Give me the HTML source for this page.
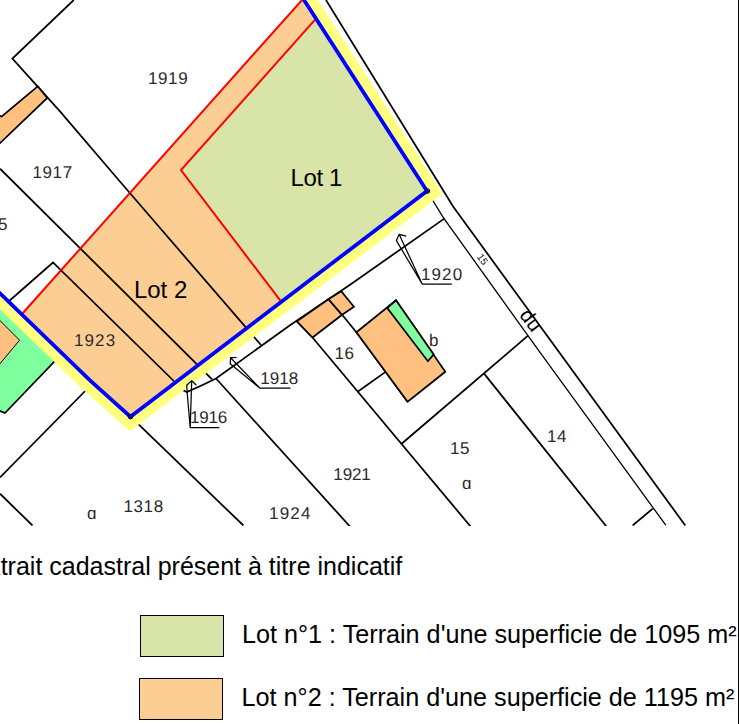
<!DOCTYPE html>
<html><head><meta charset="utf-8">
<style>
html,body{margin:0;padding:0;background:#fff;width:739px;height:724px;overflow:hidden}
svg{position:absolute;left:0;top:0}
text{font-family:"Liberation Sans",sans-serif;fill:#000}
.lbl{font-size:17px;letter-spacing:0.6px;fill:#2a2a2a;text-rendering:geometricPrecision}
</style></head><body>
<svg width="739" height="724" viewBox="0 0 739 724">
<defs>
<clipPath id="map"><rect x="0" y="0" width="739" height="526"/></clipPath>
<clipPath id="ycl"><polygon points="22,314.7 0,293.4 -50,245 -50,800 800,800 800,-50 302,-50 302,0"/></clipPath>
<clipPath id="lots"><polygon points="302,0 22,314.7 90,380.4 130.4,416.7 427,191 304,0"/></clipPath>
</defs>
<g clip-path="url(#map)">
  <!-- base black lines -->
  <g id="blines" fill="none" stroke="#000" stroke-width="1.75">
    <path d="M73.75,0 L12.4,58.5 L60,111.4 L119.5,181 L261,345"/>
    <path d="M0,168.7 L212.1,379.3"/>
    <path d="M8,302 L53,262.5 L184,391"/>
    <path d="M94,382 L0,477.5"/>
    <path d="M0,493.75 L32.5,525.5"/>
    <path d="M130.3,416.4 L243.4,525.5"/>
    <path d="M216,378.5 L350.4,527"/>
    <path d="M183,390 L186.7,392.1 Q201,386 216,378.5 L290,325.3 L349.7,285 L444.3,218.6"/>
    <path d="M528,335.7 L401.3,444"/>
    <path d="M296.9,321.3 L312.5,337.5 L471,527"/>
    <path d="M328.4,299.2 L342.1,314.8 L356.4,332.2 L407.6,401.7"/>
    <path d="M385.6,371.9 L357.6,391.7"/>
    <path d="M483.9,373.4 L606.8,527"/>
    <path d="M326,0 L453.1,206.5 L685.3,525.5"/>
    <path d="M632.6,525.5 L652.8,508.6"/>
  </g>
  <path d="M427,191 L443,217.2 L540,352.4 L665.8,525.2" fill="none" stroke="#000" stroke-width="1.3"/>
  <!-- strip at left -->
  <polygon points="37.7,86.3 1.45,116.7 -3,114 -3,146 47.3,97.9" fill="#FFC080" stroke="#000" stroke-width="1.75"/>
  <!-- green parcel left -->
  <polygon points="-5,288 63,352.6 5,413 -5,409" fill="#80FF9F" stroke="#000" stroke-width="1.75"/>
  <polygon points="-6,314.6 19.6,340.2 -6,370.9" fill="#FFC080" stroke="#000" stroke-width="1"/>
  <!-- buildings -->
  <g stroke="#000" stroke-width="1.75" stroke-linejoin="miter">
    <polygon points="296.9,321.3 328.4,299.2 342.1,314.8 312.5,337.5" fill="#FFC080"/>
    <polygon points="328.4,299.2 341.2,291.2 353.9,306.8 342.1,314.8" fill="#FFC080"/>
    <polygon points="356.4,332.2 396,300.3 445.3,371.8 407.6,401.7" fill="#FFC080"/>
    <polygon points="387.3,308 396,300.3 433.7,354.4 427.9,361.2" fill="#80FF9F"/>
  </g>
  <!-- yellow buffer -->
  <path clip-path="url(#ycl)" d="M284.7,-30 L427,191 L130.4,416.7 L90,380.4 L0,293.4 L-20,274.1" fill="none" stroke="#FFFF80" stroke-width="23" stroke-linejoin="miter"/>
  <!-- lot fills -->
  <polygon points="302,0 22,314.7 90,380.4 130.4,416.7 427,191 304,0" fill="#FCCE94"/>
  <polygon points="316,18.6 427,191 281.2,301.7 181,170" fill="#D8E4A8"/>
  <!-- red lines -->
  <g fill="none" stroke="#FF0000" stroke-width="2">
    <path d="M302,0 L22,314"/>
    <path d="M316,18.6 L181,170 L281.2,301.7"/>
  </g>
  <!-- black lines inside lots -->
  <g clip-path="url(#lots)" fill="none" stroke="#000" stroke-width="1.75">
    <path d="M73.75,0 L12.4,58.5 L60,111.4 L119.5,181 L261,345"/>
    <path d="M0,168.7 L212.1,379.3"/>
    <path d="M8,302 L53,262.5 L184,391"/>
  </g>
  <!-- blue line -->
  <path d="M284.7,-30 L427,191 L130.4,416.7 L90,380.4 L0,293.4 L-20,274.1" fill="none" stroke="#0000FF" stroke-width="3.8" stroke-linejoin="miter"/>
  <circle cx="427.5" cy="191" r="2.3" fill="none" stroke="#000" stroke-width="1"/>
  <circle cx="130.5" cy="416.6" r="2.3" fill="none" stroke="#000" stroke-width="1"/>
  <!-- arrows / leaders -->
  <g fill="none" stroke="#000" stroke-width="1.25" stroke-linejoin="round">
    <path d="M406.3,236.2 L399.1,234.3 L396.4,240.6 L422.3,284.2 L451.8,284.2 M399.1,234.3 L422.3,284.2"/>
    <path d="M236.7,357.5 L230.6,357.7 L230.2,363.8 L259.7,388 L290.5,388 M230.6,357.7 L259.7,388"/>
    <path d="M196.4,385.3 L191.7,380.6 L186.7,385.3 L187.3,394 L190.2,427.7 L219.3,427.7 M191.7,380.6 L190.2,427.7"/>
  </g>
  <!-- labels -->
  <text class="lbl" x="148" y="84">1919</text>
  <text class="lbl" x="32.5" y="178">1917</text>
  <text class="lbl" x="-2" y="230">5</text>
  <text class="lbl" x="74" y="346" style="letter-spacing:1.1px">1923</text>
  <text class="lbl" x="123.5" y="511.5">1318</text>
  <text class="lbl" x="87" y="519">ɑ</text>
  <text class="lbl" x="260.3" y="383.7" style="letter-spacing:0px">1918</text>
  <text class="lbl" x="190" y="422.9" style="letter-spacing:-0.2px">1916</text>
  <text class="lbl" x="421" y="279.9" style="letter-spacing:1.1px">1920</text>
  <text class="lbl" x="334.5" y="358.5">16</text>
  <text class="lbl" x="429" y="345.7">b</text>
  <text class="lbl" x="333.3" y="480.4" style="letter-spacing:-0.1px">1921</text>
  <text class="lbl" x="269" y="518.6" style="letter-spacing:1.2px">1924</text>
  <text class="lbl" x="450" y="454.3">15</text>
  <text class="lbl" x="462" y="489.2">ɑ</text>
  <text class="lbl" x="547" y="441.8">14</text>
  <text style="font-size:10px" transform="translate(481.8,259.7) rotate(55)" text-anchor="middle" dominant-baseline="middle">15</text>
  <text style="font-size:20px" transform="translate(529.6,321) rotate(53)" text-anchor="middle" dominant-baseline="middle">du</text>
  <text style="font-size:24px" x="290.5" y="186.2" letter-spacing="-0.4">Lot 1</text>
  <text style="font-size:24px" x="133.9" y="298">Lot 2</text>
</g>
<rect x="738" y="0" width="1" height="724" fill="#000"/>
<!-- bottom text -->
<text id="ext" style="font-size:25px" x="-28.5" y="575">Extrait cadastral présent à titre indicatif</text>
<rect x="140.5" y="615.5" width="83" height="41" fill="#D8E4A8" stroke="#000" stroke-width="1"/>
<rect x="139.5" y="678.5" width="83" height="41" fill="#FCCE94" stroke="#000" stroke-width="1"/>
<text style="font-size:25.2px" x="242" y="643">Lot n°1 : Terrain d'une superficie de 1095 m²</text>
<text style="font-size:25.2px" x="241.6" y="706">Lot n°2 : Terrain d'une superficie de 1195 m²</text>
</svg>
</body></html>
